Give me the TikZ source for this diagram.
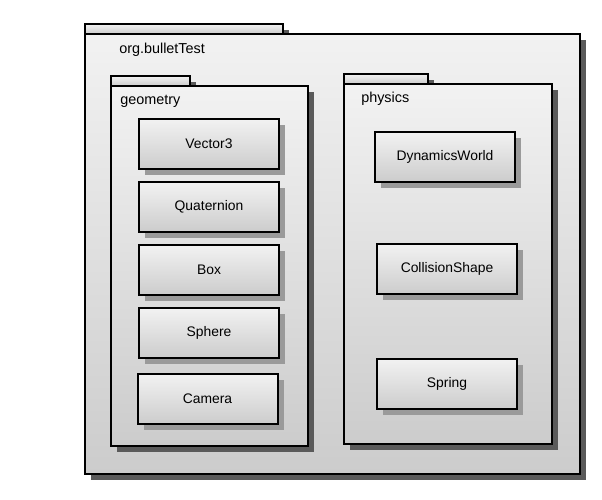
\documentclass[tikz,border=0pt]{standalone}
\usepackage{fontspec}
\setmainfont{Liberation Sans}
\usepackage{tikz}
\usetikzlibrary{shadows}

\definecolor{pkgtop}{HTML}{F2F2F2}
\definecolor{pkgbot}{HTML}{CCCCCC}
\definecolor{pkgshade}{HTML}{5A5A5A}
\definecolor{clsshade}{HTML}{9A9A9A}

\begin{document}
\begin{tikzpicture}[x=0.75pt, y=-0.75pt,
    pkg/.style={draw=black, line width=1.5pt, top color=pkgtop, bottom color=pkgbot,
        drop shadow={shadow xshift=4.5pt, shadow yshift=-4.5pt, fill=pkgshade, opacity=1}},
    classbox/.style={draw=black, line width=1.5pt, top color=pkgtop, bottom color=pkgbot,
        minimum width=105pt, minimum height=37.5pt, inner sep=0pt,
        font=\fontsize{10.4}{12}\selectfont,
        drop shadow={shadow xshift=4.5pt, shadow yshift=-4.5pt, fill=clsshade, opacity=1}},
    pkglabel/.style={anchor=west, inner sep=0pt, font=\fontsize{10.8}{12}\selectfont}]
    \useasboundingbox (0,0) rectangle (602,499);

    \filldraw[pkg] (85,24) rectangle (283,34);
    \filldraw[pkg] (85,34) rectangle (580,474);
    \node[pkglabel] (orgname) at (119,50) {org.bulletTest};

    \filldraw[pkg] (111,76) rectangle (190,86);
    \filldraw[pkg] (111,86) rectangle (308,446);
    \node[pkglabel] (geoname) at (120,101) {geometry};

    \filldraw[pkg] (344,74) rectangle (428,84);
    \filldraw[pkg] (344,84) rectangle (552,444);
    \node[pkglabel] (physname) at (361,99) {physics};

    \node[classbox] (vector3) at (209,144) {Vector3};
    \node[classbox] (quaternion) at (209,207) {Quaternion};
    \node[classbox] (box) at (209,270) {Box};
    \node[classbox] (sphere) at (209,333) {Sphere};
    \node[classbox] (camera) at (207.5,399) {Camera};

    \node[classbox] (dynworld) at (445,157) {DynamicsWorld};
    \node[classbox] (collshape) at (447,269) {CollisionShape};
    \node[classbox] (spring) at (447,384) {Spring};
\end{tikzpicture}
\end{document}
